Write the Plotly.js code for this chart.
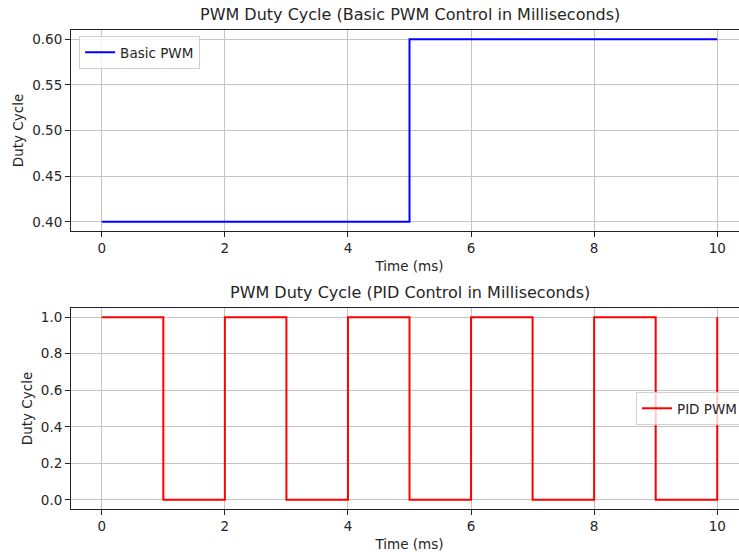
<!DOCTYPE html>
<html>
<head>
<meta charset="utf-8">
<script src="https://cdn.plot.ly/plotly-3.0.1.min.js"></script>
<style>
  html, body { margin: 0; padding: 0; overflow: hidden; background: #fff; }
  #chart { width: 760px; height: 552px; }
</style>
</head>
<body>
<div id="chart"></div>
<script>
// Data
const basicTime = [0, 5, 10];
const basicDuty = [0.4, 0.6, 0.6];
const pidTime = [0, 1, 2, 3, 4, 5, 6, 7, 8, 9, 10];
const pidDuty = [1, 0, 1, 0, 1, 0, 1, 0, 1, 0, 1];
const xTicks = [0, 2, 4, 6, 8, 10];
const basicYTicks = [0.40, 0.45, 0.50, 0.55, 0.60];
const pidYTicks = [0.0, 0.2, 0.4, 0.6, 0.8, 1.0];
const titles = ["PWM Duty Cycle (Basic PWM Control in Milliseconds)", "PWM Duty Cycle (PID Control in Milliseconds)"];

const FONT = "DejaVu Sans";
const TXT = "#262626";

const traces = [
  { x: basicTime, y: basicDuty, type: "scatter", mode: "lines", line: { shape: "hv", color: "#0000ff", width: 2 },
    name: "Basic PWM", xaxis: "x", yaxis: "y", legend: "legend" },
  { x: pidTime, y: pidDuty, type: "scatter", mode: "lines", line: { shape: "hv", color: "#ff0000", width: 2 },
    name: "PID PWM", xaxis: "x2", yaxis: "y2", legend: "legend2" }
];

const commonX = {
  range: [-0.5, 10.5], tickvals: xTicks, ticks: "outside", ticklen: 5, tickcolor: "#222", tickwidth: 1,
  showline: true, mirror: true, linecolor: "#222", linewidth: 1,
  showgrid: true, gridcolor: "#c4c4c4", gridwidth: 1, zeroline: false,
  tickfont: { family: FONT, size: 13.5, color: TXT },
  title: { text: "Time (ms)", font: { family: FONT, size: 13.5, color: TXT }, standoff: 6 }
};
const commonY = {
  ticks: "outside", ticklen: 5, tickcolor: "#222", tickwidth: 1,
  showline: true, mirror: true, linecolor: "#222", linewidth: 1,
  showgrid: true, gridcolor: "#c4c4c4", gridwidth: 1, zeroline: false,
  tickfont: { family: FONT, size: 13.5, color: TXT },
  title: { text: "Duty Cycle", font: { family: FONT, size: 13.5, color: TXT }, standoff: 5 }
};

const layout = {
  width: 760, height: 552,
  margin: { l: 71, r: 12, t: 30, b: 43 },
  paper_bgcolor: "#fff", plot_bgcolor: "#fff",
  font: { family: FONT, size: 13.5, color: TXT },
  xaxis: Object.assign({}, commonX, { domain: [0, 1], anchor: "y" }),
  yaxis: Object.assign({}, commonY, { domain: [0.5804, 1], anchor: "x", range: [0.39, 0.61], tickvals: basicYTicks, tickformat: ".2f" }),
  xaxis2: Object.assign({}, commonX, { domain: [0, 1], anchor: "y2" }),
  yaxis2: Object.assign({}, commonY, { domain: [0, 0.4196], anchor: "x2", range: [-0.05, 1.05], tickvals: pidYTicks, tickformat: ".1f" }),
  showlegend: true,
  legend: { x: 0.012, xanchor: "left", y: 0.9875, yanchor: "top", bgcolor: "rgba(255,255,255,0.8)",
    bordercolor: "#d0d0d0", borderwidth: 1, font: { family: FONT, size: 13.5, color: TXT } },
  legend2: { x: 0.9926, xanchor: "right", y: 0.2098, yanchor: "middle", bgcolor: "rgba(255,255,255,0.8)",
    bordercolor: "#d0d0d0", borderwidth: 1, font: { family: FONT, size: 13.5, color: TXT } },
  annotations: [
    { text: titles[0], xref: "paper", yref: "paper", x: 0.5, y: 1, yanchor: "bottom", yshift: 4, showarrow: false,
      font: { family: FONT, size: 16, color: TXT } },
    { text: titles[1], xref: "paper", yref: "paper", x: 0.5, y: 0.4196, yanchor: "bottom", yshift: 4, showarrow: false,
      font: { family: FONT, size: 16, color: TXT } }
  ]
};

Plotly.newPlot("chart", traces, layout, { staticPlot: true, displayModeBar: false });
</script>
</body>
</html>
